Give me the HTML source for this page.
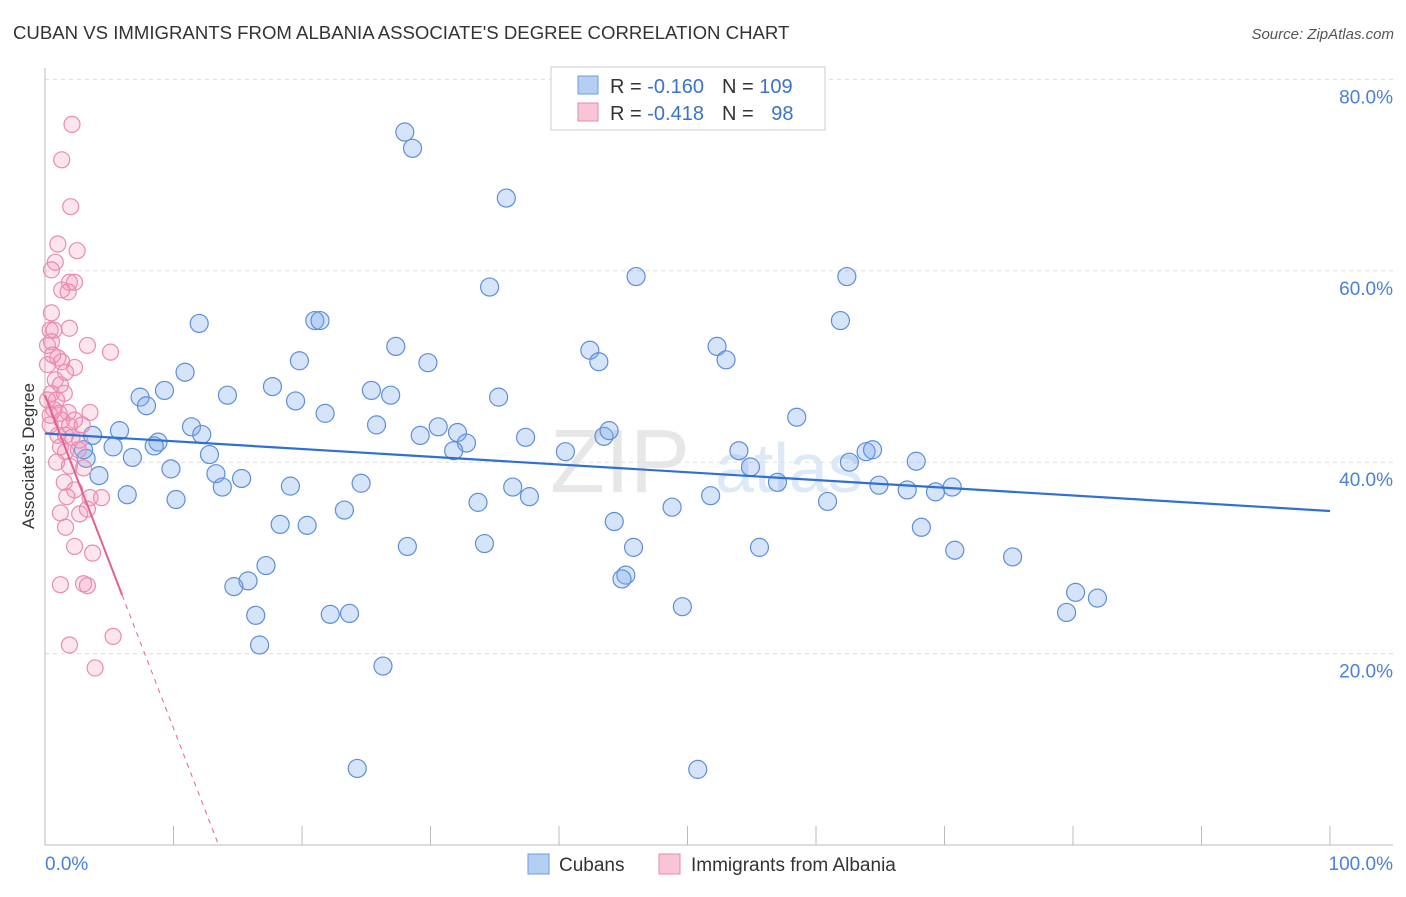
<!DOCTYPE html>
<html><head><meta charset="utf-8"><style>
body{margin:0;background:#fff;font-family:"Liberation Sans",sans-serif;}
svg text{font-family:"Liberation Sans",sans-serif;}
</style></head><body>
<svg id="chart" width="1406" height="892" xmlns="http://www.w3.org/2000/svg">
<text x="13" y="39" font-size="18.6" fill="#333">CUBAN VS IMMIGRANTS FROM ALBANIA ASSOCIATE'S DEGREE CORRELATION CHART</text>
<text x="1394" y="39" font-size="15" fill="#555" text-anchor="end" font-style="italic">Source: ZipAtlas.com</text>
<text transform="translate(34,456) rotate(-90)" font-size="17" fill="#333" text-anchor="middle">Associate's Degree</text>
<text x="550" y="492" font-size="90" fill="#ddd" font-family="Liberation Serif" opacity="0.7">ZIP</text>
<text x="715" y="492" font-size="70" fill="#cfe0f3" opacity="0.7">atlas</text>
<g id="grid"></g><g id="axes"></g><g id="pts"></g><g id="trend"></g>
<g>
<rect x="551" y="67" width="274" height="63" fill="#fff" stroke="#ccc"/>
<rect x="578" y="76" width="20" height="18" fill="#b5cff3" stroke="#6d9be0"/>
<rect x="578" y="103" width="20" height="18" fill="#f9c4d6" stroke="#e88aac"/>
<text x="610" y="93" font-size="20" fill="#333">R = <tspan fill="#3a72d0">-0.160</tspan><tspan dx="18">N = </tspan><tspan fill="#3a72d0">109</tspan></text>
<text x="610" y="120" font-size="20" fill="#333">R = <tspan fill="#3a72d0">-0.418</tspan><tspan dx="18">N = </tspan><tspan fill="#3a72d0" dx="12">98</tspan></text>
</g>
<g>
<rect x="528" y="854" width="21" height="20" fill="#b5cff3" stroke="#6d9be0"/>
<text x="559" y="871" font-size="19" fill="#333">Cubans</text>
<rect x="659" y="854" width="21" height="20" fill="#f9c4d6" stroke="#e88aac"/>
<text x="691" y="871" font-size="19" fill="#333">Immigrants from Albania</text>
</g>
</svg>
<script>
const yTicks=[20,40,60,80];
const yTickLabels=["20.0%","40.0%","60.0%","80.0%"];
const xTicks=[0,10,20,30,40,50,60,70,80,90,100];
const cubX=[28.0,28.6,35.9,34.6,46.0,62.4,12.0,21.0,21.4,61.9,27.3,42.4,43.1,52.3,53.0,19.8,29.8,10.9,9.3,7.4,7.9,14.2,17.7,19.5,25.4,26.9,35.3,58.5,21.8,25.8,29.2,30.6,32.1,32.8,31.8,37.4,43.5,43.9,40.5,54.0,54.9,63.9,64.4,62.6,67.8,11.4,12.2,5.8,3.7,3.2,5.3,6.8,8.8,8.5,12.8,9.8,13.3,15.3,13.8,4.2,6.4,10.2,19.1,24.6,36.4,37.7,33.7,23.3,48.8,51.8,57.0,60.9,64.9,67.1,69.3,70.6,18.3,20.4,44.3,68.2,28.2,34.2,45.8,55.6,70.8,75.3,17.2,15.8,14.7,45.2,44.9,49.6,16.4,22.2,23.7,80.2,81.9,79.5,16.7,26.3,24.3,50.8,3.0];
const cubY=[74.5,72.8,67.6,58.3,59.4,59.4,54.5,54.8,54.8,54.8,52.1,51.7,50.5,52.1,50.7,50.6,50.4,49.4,47.5,46.8,45.9,47.0,47.9,46.4,47.5,47.0,46.8,44.7,45.1,43.9,42.8,43.7,43.1,42.0,41.2,42.6,42.7,43.3,41.1,41.2,39.5,41.1,41.3,40.0,40.1,43.7,42.9,43.3,42.8,40.4,41.6,40.5,42.1,41.7,40.8,39.3,38.8,38.3,37.4,38.6,36.6,36.1,37.5,37.8,37.4,36.4,35.8,35.0,35.3,36.5,37.9,35.9,37.6,37.1,36.9,37.4,33.5,33.4,33.8,33.2,31.2,31.5,31.1,31.1,30.8,30.1,29.2,27.6,27.0,28.2,27.8,24.9,24.0,24.1,24.2,26.4,25.8,24.3,20.9,18.7,8.0,7.9,41.3];
const albX=[2.1,1.3,2.0,1.0,2.5,0.8,0.5,1.9,2.3,1.3,1.8,0.5,0.4,0.7,1.9,0.2,0.5,3.3,5.1,1.0,1.3,0.2,2.3,0.8,1.2,0.5,1.5,0.9,0.7,1.1,1.8,3.5,2.3,1.3,1.9,0.4,2.9,1.6,2.1,1.2,2.6,1.6,0.9,1.9,3.0,1.5,2.3,1.7,3.5,4.4,1.2,2.7,3.3,1.6,2.3,3.7,1.2,3.0,3.3,5.3,1.9,3.9,0.2,0.4,1.0,0.6,1.6,2.7];
const albY=[75.3,71.6,66.7,62.8,62.1,60.9,60.1,58.8,58.8,58.0,57.8,55.6,53.8,53.8,54.0,52.2,52.6,52.2,51.5,50.9,50.5,50.2,49.9,48.6,48.1,47.2,47.2,46.5,45.5,45.1,45.2,45.2,44.4,44.4,43.8,43.9,43.9,42.8,42.6,41.6,41.3,41.1,40.0,39.6,39.4,37.9,37.1,36.4,36.3,36.3,34.7,34.6,35.1,33.2,31.2,30.5,27.2,27.3,27.1,21.8,20.9,18.5,46.5,44.9,42.8,51.2,49.4,42.3];
const cubTrend=[43.0,34.9];
const albTrend=[47.0,-3.48];

const NS="http://www.w3.org/2000/svg";
const X0=45,X1=1330,Y0=845,PPY=9.57;
const sx=v=>X0+(X1-X0)*v/100;
const sy=v=>Y0-v*PPY;
function mk(tag,attrs,parent){const e=document.createElementNS(NS,tag);for(const k in attrs)e.setAttribute(k,attrs[k]);parent.appendChild(e);return e;}
const grid=document.getElementById('grid'),axes=document.getElementById('axes'),pts=document.getElementById('pts'),tr=document.getElementById('trend');
yTicks.forEach((t,i)=>{
 const l=mk('line',{x1:X0,x2:1393,y1:sy(t),y2:sy(t),stroke:'#ddd','stroke-dasharray':'4,4'},grid);
 
 
 const tx=mk('text',{x:1393,y:sy(t)+24,'font-size':19,fill:'#4a80d8','text-anchor':'end'},axes);
 tx.textContent=yTickLabels[i];
 
 
});
mk('line',{x1:X0,x2:X0,y1:68,y2:Y0,stroke:'#bbb'},axes);
mk('line',{x1:X0,x2:1393,y1:Y0,y2:Y0,stroke:'#bbb'},axes);
xTicks.forEach(t=>{
 const l=mk('line',{x1:sx(t),x2:sx(t),y1:826,y2:Y0,stroke:'#bbb'},axes);
 
 
});
const xl0=mk('text',{x:45,y:870,'font-size':19,fill:'#4a80d8'},axes);xl0.textContent='0.0%';


const xl1=mk('text',{x:1393,y:870,'font-size':19,fill:'#4a80d8','text-anchor':'end'},axes);xl1.textContent='100.0%';


cubX.forEach((x,i)=>{
 const c=mk('circle',{cx:sx(x),cy:sy(cubY[i]),r:9,fill:'rgba(120,165,235,0.3)',stroke:'#5d8edb','stroke-width':1.2},pts);
 
 
});
albX.forEach((x,i)=>{
 const c=mk('circle',{cx:sx(x),cy:sy(albY[i]),r:8,fill:'rgba(245,150,185,0.25)',stroke:'#ea8bb0','stroke-width':1.2},pts);
 
 
});
const bl=mk('line',{x1:sx(0),y1:sy(cubTrend[0]),x2:sx(100),y2:sy(cubTrend[1]),stroke:'#2f6fd6','stroke-width':2.2},tr);


const xe=6,xz=-albTrend[0]/albTrend[1];
const ps=mk('line',{x1:sx(0),y1:sy(albTrend[0]),x2:sx(xe),y2:sy(albTrend[0]+albTrend[1]*xe),stroke:'#e5608f','stroke-width':2},tr);


const pd=mk('line',{x1:sx(xe),y1:sy(albTrend[0]+albTrend[1]*xe),x2:sx(xz),y2:sy(0),stroke:'#e5608f','stroke-width':1,'stroke-dasharray':'5,5'},tr);


</script>
</body></html>
